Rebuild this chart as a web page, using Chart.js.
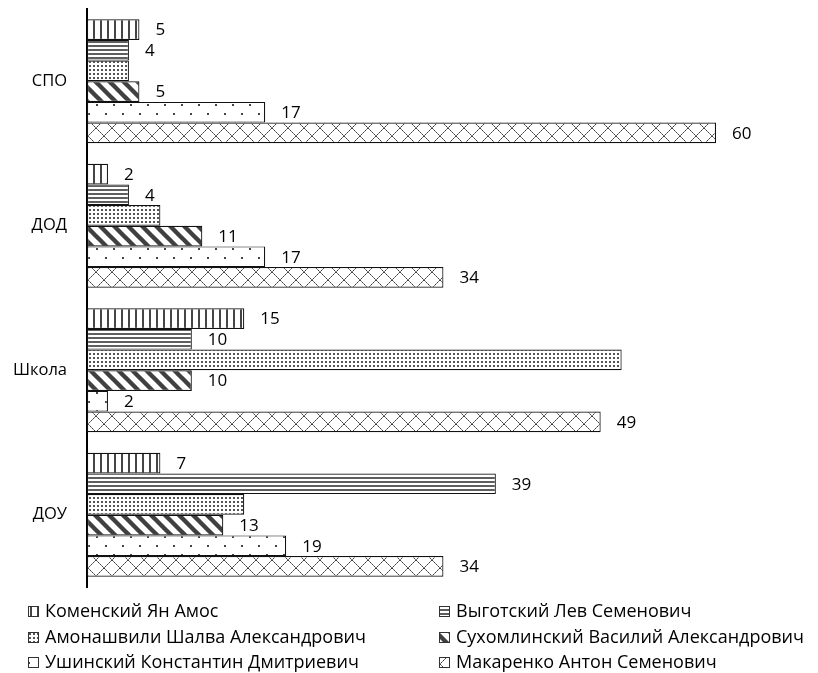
<!DOCTYPE html>
<html>
<head>
<meta charset="utf-8">
<script src="https://cdn.jsdelivr.net/npm/chart.js@4"></script>
<style>
  html, body { margin: 0; padding: 0; background: #fff; }
  #wrap { width: 818px; height: 673px; position: relative; }
</style>
</head>
<body>
<div id="wrap"><canvas id="c" width="818" height="673"></canvas></div>
<script>
// Categories (top to bottom) and one array per teacher
const categories = ['СПО', 'ДОД', 'Школа', 'ДОУ'];
const seriesNames = [
  'Коменский Ян Амос',
  'Выготский Лев Семенович',
  'Амонашвили Шалва Александрович',
  'Сухомлинский Василий Александрович',
  'Ушинский Константин Дмитриевич',
  'Макаренко Антон Семенович'
];
const komensky     = [5, 2, 15, 7];
const vygotsky     = [4, 4, 10, 39];
const amonashvili  = [4, 7, 51, 15];
const sukhomlinsky = [5, 11, 10, 13];
const ushinsky     = [17, 17, 2, 19];
const makarenko    = [60, 34, 49, 34];
// which series carry value labels
const labelled = [true, true, false, true, true, true];
const xMax = 60;

const FONT = '"Open Sans", Lato, sans-serif';

// --- hatch patterns -------------------------------------------------------
function tile(w, h, draw) {
  const c = document.createElement('canvas');
  c.width = w; c.height = h;
  const g = c.getContext('2d');
  g.fillStyle = '#fff';
  g.fillRect(0, 0, w, h);
  draw(g, w, h);
  return c;
}
function toPattern(t) {
  return document.getElementById('c').getContext('2d').createPattern(t, 'repeat');
}
const tiles = [
  // vertical lines
  tile(7, 7, (g) => { g.fillStyle = '#454545'; g.fillRect(2, 0, 2, 7); }),
  // horizontal lines
  tile(4, 4, (g) => { g.fillStyle = '#5e5e5e'; g.fillRect(0, 1, 4, 2); }),
  // dense dots
  tile(4, 4, (g) => { g.fillStyle = '#555'; g.fillRect(1, 1, 2, 2); }),
  // wide diagonal stripes
  tile(14, 14, (g, w, h) => {
    g.strokeStyle = '#404040'; g.lineWidth = 4.4;
    for (let k = -1; k <= 1; k++) {
      g.beginPath(); g.moveTo(k * w - 2, -2); g.lineTo(k * w + w + 2, h + 2); g.stroke();
    }
  }),
  // sparse dots
  tile(17, 18, (g) => { g.fillStyle = '#444'; g.fillRect(3, 5, 2, 2); g.fillRect(11, 14, 2, 2); }),
  // diamond lattice
  tile(16, 16, (g, w) => {
    for (let i = 0; i < w; i++) {
      g.fillStyle = i % 2 ? '#808080' : '#3c3c3c';
      g.fillRect(i, i, 1, 1);
      g.fillRect(w - 1 - i, i, 1, 1);
    }
  })
];
const patterns = tiles.map(toPattern);

const values = [komensky, vygotsky, amonashvili, sukhomlinsky, ushinsky, makarenko];
const datasets = values.map((v, i) => ({
  label: seriesNames[i],
  data: v,
  backgroundColor: patterns[i],
  borderColor: '#111',
  borderWidth: 1.2,
  borderSkipped: false
}));

// value labels to the right of bars
const valueLabels = {
  id: 'valueLabels',
  afterDatasetsDraw(chart) {
    const ctx = chart.ctx;
    ctx.save();
    ctx.font = '17px ' + FONT;
    ctx.fillStyle = '#000';
    ctx.textAlign = 'left';
    ctx.textBaseline = 'middle';
    chart.data.datasets.forEach((ds, i) => {
      if (!labelled[i]) return;
      chart.getDatasetMeta(i).data.forEach((el, j) => {
        ctx.fillText(String(ds.data[j]), el.x + 16, el.y + 1);
      });
    });
    ctx.restore();
  }
};

// two-column legend under the plot
const gridLegend = {
  id: 'gridLegend',
  afterDraw(chart) {
    const ctx = chart.ctx;
    const colX = [28, 439];
    const rowY = [611, 637, 662];
    ctx.save();
    ctx.font = '18px ' + FONT;
    ctx.textBaseline = 'middle';
    ctx.textAlign = 'left';
    chart.data.datasets.forEach((ds, i) => {
      const x = colX[i % 2];
      const y = rowY[Math.floor(i / 2)];
      ctx.fillStyle = patterns[i];
      ctx.fillRect(x, y - 5, 10, 10);
      ctx.strokeStyle = '#333';
      ctx.lineWidth = 1;
      ctx.strokeRect(x + 0.5, y - 4.5, 10, 10);
      ctx.fillStyle = '#000';
      ctx.fillText(ds.label, x + 17, y + 1);
    });
    ctx.restore();
  }
};

new Chart(document.getElementById('c'), {
  type: 'bar',
  data: { labels: categories, datasets },
  options: {
    responsive: false,
    animation: false,
    indexAxis: 'y',
    layout: { padding: { top: 9, bottom: 86, right: 102, left: 0 } },
    datasets: { bar: { categoryPercentage: 0.858, barPercentage: 1 } },
    plugins: { legend: { display: false }, tooltip: { enabled: false } },
    scales: {
      x: { display: false, min: 0, max: xMax },
      y: {
        grid: { display: false, drawTicks: false },
        border: { display: true, color: '#000', width: 2 },
        ticks: { padding: 20, color: '#000', font: { family: FONT, size: 16.5 } },
        afterFit(scale) {
          scale.width = 87;
          scale.paddingTop = 0;
          scale.paddingBottom = 0;
        }
      }
    }
  },
  plugins: [valueLabels, gridLegend]
});
</script>
</body>
</html>
